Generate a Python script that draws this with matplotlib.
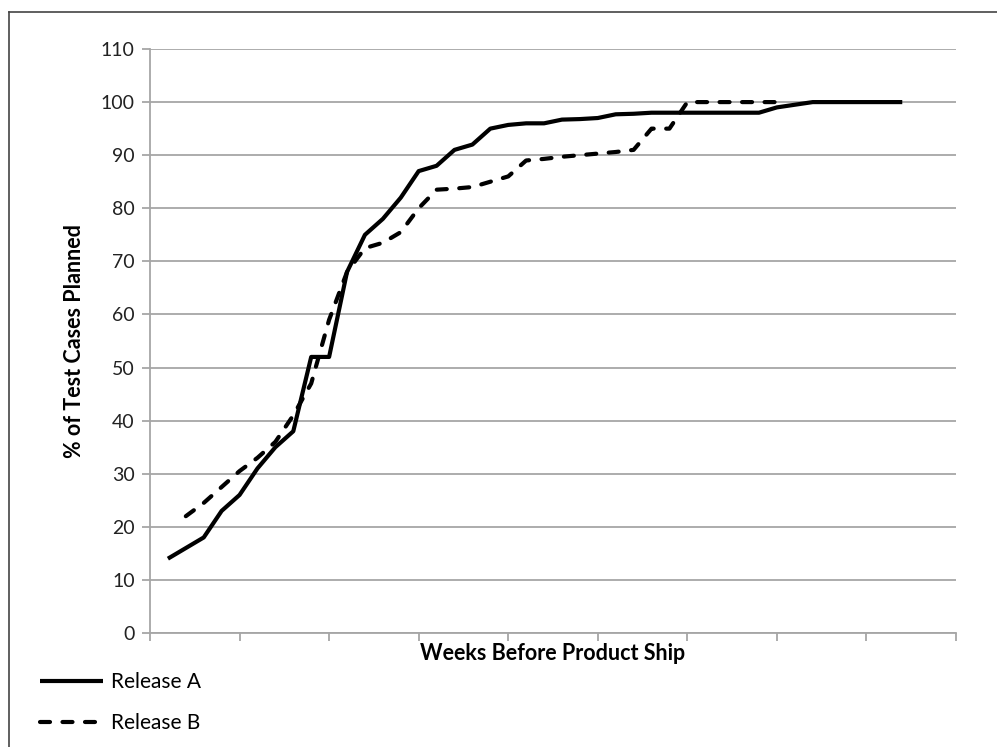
from typing import List

import matplotlib.pyplot as plt
from matplotlib.lines import Line2D

plt.rcParams['font.family'] = ['Lato', 'DejaVu Sans']

weeks_a = list(range(1, 43))
release_a = [14, 16, 18, 23, 26, 31, 35, 38, 52, 52,
             68, 75, 78, 82, 87, 88, 91, 92, 95, 95.7,
             96, 96, 96.7, 96.8, 97, 97.7, 97.8, 98, 98, 98,
             98, 98, 98, 98, 99, 99.5, 100, 100, 100, 100,
             100, 100]

weeks_b = list(range(2, 36))
release_b = [22, 24.5, 27.5, 30.5, 33, 36, 41, 47, 59, 68,
             72.5, 73.5, 75.5, 80, 83.5, 83.7, 84, 85, 86, 89,
             89.3, 89.7, 90, 90.3, 90.6, 91, 95, 95, 100, 100,
             100, 100, 100, 100]

y_ticks = list(range(0, 111, 10))
x_ticks = list(range(0, 46, 5))

GRID = '#a6a6a6'


def draw_series(ax: plt.Axes, x: List[int], y: List[float], dashed: bool) -> Line2D:
    if dashed:
        line, = ax.plot(x, y, color='black', lw=3.0, dashes=(2.4, 3.0),
                        dash_capstyle='round', solid_joinstyle='round')
    else:
        line, = ax.plot(x, y, color='black', lw=3.0, solid_capstyle='butt',
                        solid_joinstyle='round')
    return line


fig = plt.figure(figsize=(9.97, 7.47), dpi=100)
ax = fig.add_axes([150 / 997, 1 - 633 / 747, 806 / 997, (633 - 49) / 747])

line_a = draw_series(ax, weeks_a, release_a, dashed=False)
line_b = draw_series(ax, weeks_b, release_b, dashed=True)

ax.set_xlim(0, 45)
ax.set_ylim(0, 110)
ax.set_yticks(y_ticks)
ax.set_xticks(x_ticks)
ax.set_xticklabels([])
ax.yaxis.grid(True, color=GRID, lw=1.3)
ax.set_axisbelow(True)

for side in ('top', 'right'):
    ax.spines[side].set_visible(False)
for side in ('left', 'bottom'):
    ax.spines[side].set_color(GRID)
    ax.spines[side].set_linewidth(1.3)
ax.tick_params(axis='both', colors=GRID, length=6, width=1.3)
ax.tick_params(axis='y', labelcolor='#222222', labelsize=14, pad=5)

ax.set_xlabel('Weeks Before Product Ship', fontsize=15.5, fontweight='bold',
              labelpad=-2)
ax.set_ylabel('% of Test Cases Planned', fontsize=15.5, fontweight='bold',
              labelpad=11)

fig.legend([line_a, line_b], ['Release A', 'Release B'], loc='upper left',
           bbox_to_anchor=(32 / 997, 1 - 664 / 747), frameon=False,
           fontsize=15, handlelength=3.0, labelspacing=1.0, handletextpad=0.4,
           borderaxespad=0)

# outer frame of the chart area
fig.add_artist(Line2D([9 / 997, 9 / 997], [0, 1 - 12 / 747], color='#444444', lw=1.2))
fig.add_artist(Line2D([9 / 997, 1], [1 - 12 / 747, 1 - 12 / 747], color='#444444', lw=1.2))

fig.savefig('out.png', dpi=100)
